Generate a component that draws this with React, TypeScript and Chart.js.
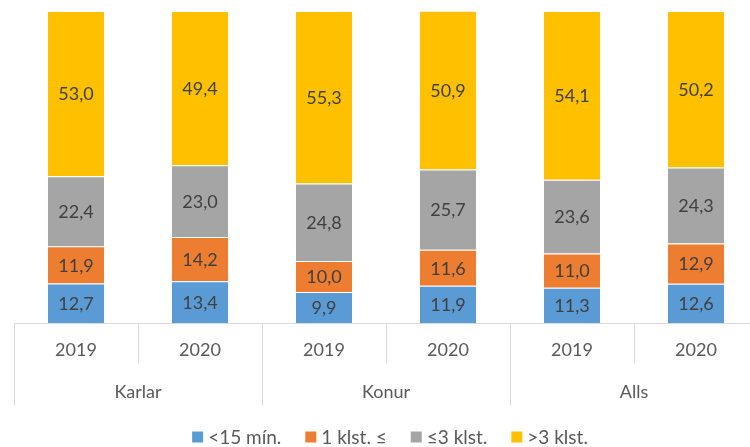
import React, { useEffect, useRef } from "react";
import { Chart, registerables } from "chart.js";

Chart.register(...registerables);

const years = ["2019", "2020", "2019", "2020", "2019", "2020"];
const groups = ["Karlar", "Konur", "Alls"];
const seriesNames = ["<15 mín.", "1 klst. ≤", "≤3 klst.", ">3 klst."];
const under15 = [12.7, 13.4, 9.9, 11.9, 11.3, 12.6];
const hour1 = [11.9, 14.2, 10.0, 11.6, 11.0, 12.9];
const upTo3 = [22.4, 23.0, 24.8, 25.7, 23.6, 24.3];
const over3 = [53.0, 49.4, 55.3, 50.9, 54.1, 50.2];
const colors = ["#5B9BD5", "#ED7D31", "#A5A5A5", "#FFC000"];

const FONT = "Lato, 'Open Sans', sans-serif";

const overlayPlugin = {
  id: "overlay",
  afterDatasetsDraw(chart: any) {
    const ctx = chart.ctx;
    ctx.save();
    ctx.font = `18px ${FONT}`;
    ctx.fillStyle = "#404040";
    ctx.textAlign = "center";
    ctx.textBaseline = "middle";
    chart.data.datasets.forEach((ds: any, di: number) => {
      const meta = chart.getDatasetMeta(di);
      meta.data.forEach((bar: any, i: number) => {
        const v = ds.data[i];
        const yc = (bar.y + bar.base) / 2;
        ctx.fillText(v.toFixed(1).replace(".", ","), bar.x, yc + 1);
      });
    });
    ctx.restore();
  },
  afterDraw(chart: any) {
    const ctx = chart.ctx;
    const x = chart.scales.x;
    const area = chart.chartArea;
    const n = years.length;
    const half = (x.getPixelForValue(1) - x.getPixelForValue(0)) / 2;
    ctx.save();
    ctx.strokeStyle = "#D9D9D9";
    ctx.lineWidth = 1;
    const yAxis = Math.round(area.bottom) + 0.5;
    ctx.beginPath();
    ctx.moveTo(area.left, yAxis);
    ctx.lineTo(area.right, yAxis);
    ctx.stroke();
    for (let i = 0; i <= n; i++) {
      const px = Math.round(x.getPixelForValue(i) - half) + 0.5;
      const long = i % 2 === 0;
      ctx.beginPath();
      ctx.moveTo(px, yAxis);
      ctx.lineTo(px, yAxis + (long ? 82 : 40));
      ctx.stroke();
    }
    ctx.font = `18px ${FONT}`;
    ctx.fillStyle = "#595959";
    ctx.textAlign = "center";
    ctx.textBaseline = "middle";
    years.forEach((y, i) => {
      ctx.fillText(y, x.getPixelForValue(i), yAxis + 27);
    });
    groups.forEach((g, gi) => {
      const cx = (x.getPixelForValue(gi * 2) + x.getPixelForValue(gi * 2 + 1)) / 2;
      ctx.fillText(g, cx, yAxis + 69);
    });
    // legend
    ctx.font = `19px ${FONT}`;
    const box = 11;
    const gap = 5;
    const spacing = 24;
    const widths = seriesNames.map((s) => box + gap + ctx.measureText(s).width);
    const total = widths.reduce((a, b) => a + b, 0) + spacing * (seriesNames.length - 1);
    let lx = 390 - total / 2;
    const ly = 437;
    ctx.textAlign = "left";
    seriesNames.forEach((s, i) => {
      ctx.fillStyle = colors[i];
      ctx.fillRect(lx, ly - box / 2, box, box);
      ctx.fillStyle = "#595959";
      ctx.fillText(s, lx + box + gap, ly + 1);
      lx += widths[i] + spacing;
    });
    ctx.restore();
  },
};

export default function App() {
  const ref = useRef<HTMLCanvasElement>(null);
  useEffect(() => {
    if (!ref.current) return;
    const values = [under15, hour1, upTo3, over3];
    const chart = new Chart(ref.current, {
      type: "bar",
      data: {
        labels: years,
        datasets: values.map((d, i) => ({
          label: seriesNames[i],
          data: d,
          backgroundColor: colors[i],
          borderColor: "rgba(255,255,255,0.55)",
          borderWidth: 1,
          barPercentage: 0.468,
          categoryPercentage: 1,
        })),
      },
      options: {
        animation: false,
        responsive: false,
        devicePixelRatio: 1,
        layout: { padding: { left: 14, right: 12, top: 11, bottom: 124 } },
        plugins: { legend: { display: false }, tooltip: { enabled: false } },
        scales: {
          x: { stacked: true, display: false },
          y: { stacked: true, display: false, min: 0, max: 100 },
        },
      },
      plugins: [overlayPlugin],
    });
    return () => chart.destroy();
  }, []);
  return (
    <div
      style={{
        position: "fixed",
        left: 0,
        top: 0,
        width: 750,
        height: 447,
        overflow: "hidden",
        background: "#fff",
      }}
    >
      <canvas ref={ref} width={770} height={447} style={{ width: 770, height: 447, display: "block" }} />
    </div>
  );
}
